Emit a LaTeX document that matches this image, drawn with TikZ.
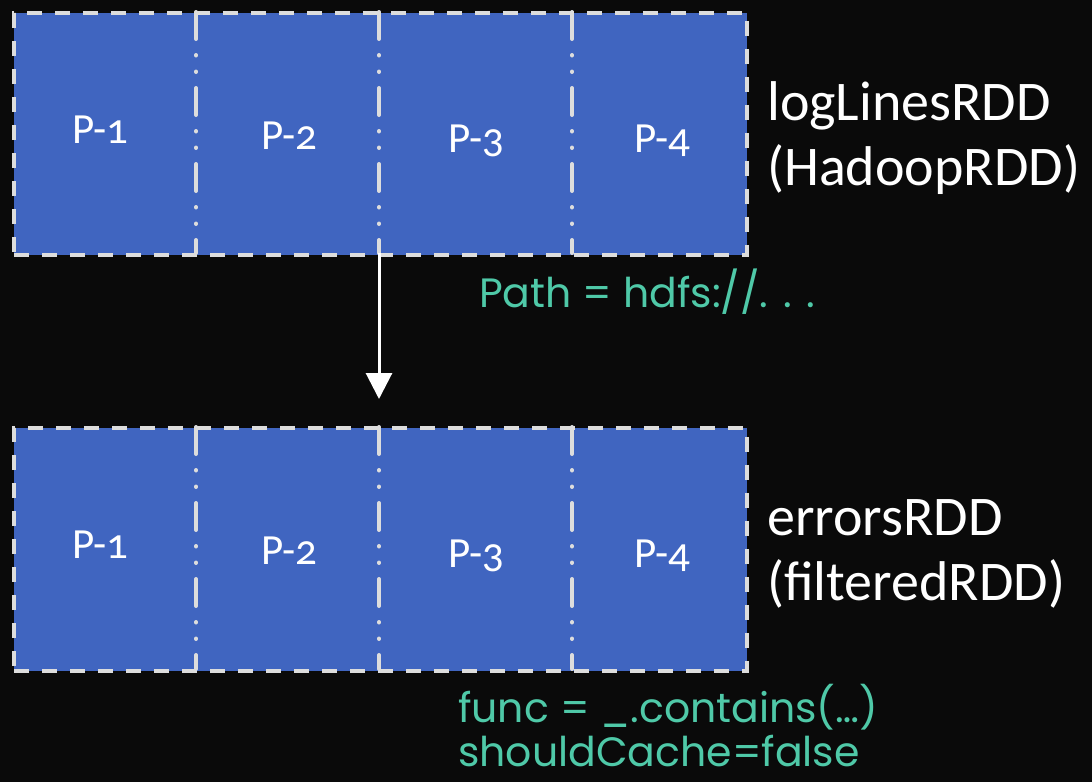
\documentclass[tikz,border=0pt]{standalone}
\usepackage{fontspec}
\setmainfont{Carlito}[Numbers=OldStyle]
\newfontfamily\geo{Poppins}
\usetikzlibrary{arrows.meta}
\definecolor{bg}{HTML}{0A0A0A}
\definecolor{cellblue}{HTML}{4065C0}
\definecolor{edge}{HTML}{DDDDDD}
\definecolor{teal}{HTML}{4FC9A8}
\tikzset{
  outer/.style={draw=edge, line width=4pt, fill=cellblue, dash pattern=on 15pt off 13pt},
  divider/.style={draw=edge, line width=4pt, line cap=round, dash pattern=on 27pt off 16pt on 0.5pt off 16pt on 0.5pt off 16pt},
  plabel/.style={text=white, font=\fontsize{43}{50}\selectfont, anchor=base, inner sep=0pt},
  rddlabel/.style={text=white, font=\fontsize{56}{64}\selectfont, anchor=base west, inner sep=0pt},
  meta/.style={text=teal, font=\geo\fontsize{41}{48}\selectfont, anchor=base west, inner sep=0pt},
  flow/.style={draw=white, line width=3pt, -{Triangle[width=26pt,length=26pt]}}
}
\begin{document}
\begin{tikzpicture}[x=1pt,y=-1pt]
\fill[bg] (0,0) rectangle (1092,782);
\useasboundingbox (0,0) rectangle (1092,782);
% top RDD
\node[outer, minimum width=733pt, minimum height=242pt, inner sep=0pt, anchor=north west] (top) at (12,11) {};
\foreach \x in {196,379,572} {
  \draw[divider] (\x,12) -- (\x,253);
}
\node[plabel] (t1) at (100,143) {P-1};
\node[plabel] (t2) at (289,149) {P-2};
\node[plabel] (t3) at (476,152) {P-3};
\node[plabel] (t4) at (662,152) {P-4};
\node[rddlabel] (tl1) at (767,120) {logLinesRDD};
\node[rddlabel] (tl2) at (767,185) {(HadoopRDD)};
% bottom RDD
\node[outer, minimum width=733pt, minimum height=243pt, inner sep=0pt, anchor=north west] (bot) at (12,426) {};
\foreach \x in {196,379,572} {
  \draw[divider] (\x,427) -- (\x,669);
}
\node[plabel] (b1) at (100,558) {P-1};
\node[plabel] (b2) at (289,564) {P-2};
\node[plabel] (b3) at (476,567) {P-3};
\node[plabel] (b4) at (662,567) {P-4};
\node[rddlabel] (bl1) at (767,535) {errorsRDD};
\node[rddlabel] (bl2) at (767,600) {(filteredRDD)};
% arrow
\coordinate (as) at (379,253);
\coordinate (ae) at (379,399);
\draw[flow] (as) -- (ae);
% metadata
\node[meta] (path) at (479,307) {Path = hdfs://. . .};
\node[meta] (func) at (458,722) {func = \_.contains(…)};
\node[meta, text depth=0pt] (cache) at (458,766) {shouldCache=false};
\end{tikzpicture}
\end{document}
